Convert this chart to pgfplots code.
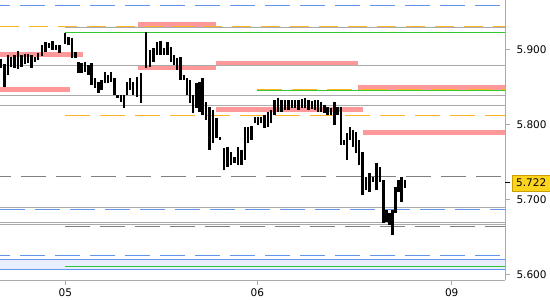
\documentclass[border=0pt]{standalone}
\usepackage{fontspec}
\setmainfont{DejaVu Sans}
\usepackage{pgfplots}
\usepackage{pgfplotstable}
\pgfplotsset{compat=1.18}
\definecolor{pinkb}{RGB}{255,153,153}
\definecolor{lgray}{RGB}{170,170,170}
\definecolor{dgray}{RGB}{128,128,128}
\definecolor{bluel}{RGB}{100,149,237}
\definecolor{orangel}{RGB}{255,180,40}
\definecolor{greenl}{RGB}{50,200,50}
\definecolor{bandfill}{RGB}{232,238,255}
\definecolor{gold}{RGB}{252,212,30}
\definecolor{golddark}{RGB}{200,160,0}

\pgfplotstableread{
x lo hi
1 5.8756 5.8876
4.5 5.8502 5.8809
8 5.8662 5.8929
11 5.8769 5.8903
14.5 5.8756 5.8929
18 5.8742 5.8983
21.5 5.8769 5.8929
25 5.8809 5.8943
28 5.8823 5.8943
31.5 5.8756 5.8929
35 5.8836 5.8903
38 5.8863 5.8956
42 5.8916 5.9063
45.5 5.8969 5.9103
49 5.9023 5.9090
52.5 5.8996 5.9116
56 5.8996 5.9063
59.5 5.8956 5.9063
65 5.9076 5.9223
68.5 5.9063 5.9170
72 5.8889 5.9156
75.5 5.8889 5.8969
78.5 5.8689 5.8836
81.5 5.8689 5.8823
85 5.8702 5.8836
88.5 5.8662 5.8796
91.5 5.8529 5.8823
95 5.8489 5.8622
98.5 5.8422 5.8569
101.5 5.8462 5.8595
105 5.8555 5.8702
108 5.8555 5.8662
111 5.8569 5.8702
114.5 5.8395 5.8622
117.5 5.8355 5.8395
121 5.8302 5.8395
124 5.8221 5.8395
127 5.8395 5.8569
130 5.8462 5.8622
133 5.8395 5.8569
137 5.8368 5.8636
141 5.8288 5.8689
146 5.8756 5.9237
150 5.8769 5.8996
153.5 5.8836 5.9023
157 5.8929 5.9103
160.5 5.8929 5.9116
164 5.8929 5.9023
167.5 5.8929 5.9103
171 5.8836 5.9036
174 5.8796 5.8929
177 5.8729 5.8889
180.5 5.8595 5.8903
184 5.8595 5.8662
187 5.8395 5.8622
190 5.8288 5.8595
193 5.8155 5.8395
196.5 5.8221 5.8555
199.5 5.8168 5.8569
202.5 5.8128 5.8622
206 5.8061 5.8302
209.5 5.7661 5.8235
213 5.7754 5.8195
216.5 5.7821 5.8088
220 5.7794 5.7837
224 5.7393 5.7687
227.5 5.7433 5.7701
231 5.7460 5.7634
234.5 5.7487 5.7567
238 5.7460 5.7701
241.5 5.7460 5.7661
245 5.7527 5.7968
248 5.7754 5.7968
251.5 5.7794 5.7981
255 5.8021 5.8101
258 5.7994 5.8101
261 5.8021 5.8101
264.5 5.7954 5.8128
268 5.7968 5.8168
271 5.8021 5.8195
274.5 5.8128 5.8328
278 5.8168 5.8355
281.5 5.8168 5.8328
285 5.8195 5.8328
288.5 5.8195 5.8328
292 5.8221 5.8328
295 5.8221 5.8328
298.5 5.8195 5.8328
302 5.8221 5.8341
305 5.8221 5.8355
308.5 5.8195 5.8328
312 5.8208 5.8315
315 5.8195 5.8328
318 5.8168 5.8328
321 5.8168 5.8302
324.5 5.8155 5.8262
327.5 5.8128 5.8235
331 5.8128 5.8221
334.5 5.7994 5.8302
337.5 5.8128 5.8235
341 5.7727 5.8235
344 5.7727 5.7794
347 5.7527 5.7888
350 5.7794 5.7968
353 5.7701 5.7928
356 5.7620 5.7901
359 5.7460 5.7794
362.5 5.7059 5.7634
366 5.7126 5.7300
369.5 5.7099 5.7353
373 5.7233 5.7300
376.5 5.7126 5.7487
380 5.7233 5.7433
383.5 5.6685 5.7260
386.5 5.6699 5.6859
389.5 5.6659 5.6819
392.5 5.6525 5.6859
395.5 5.6819 5.7166
398.5 5.7099 5.7260
401.5 5.6966 5.7300
405 5.7153 5.7260
}\bars

\begin{document}
\begin{tikzpicture}
\useasboundingbox (0,0) rectangle (550bp,300bp);
\begin{axis}[
  at={(0,20bp)}, anchor=south west,
  scale only axis, width=505bp, height=280bp,
  xmin=0, xmax=505, ymin=5.5924, ymax=5.9664,
  axis x line*=bottom, axis y line*=right,
  axis line style={draw=lgray, line width=1bp, -},
  xtick={65.3,257.3,451.7}, xticklabels={05,06,09},
  ytick={5.6,5.7,5.8,5.9},
  yticklabel style={/pgf/number format/fixed, /pgf/number format/fixed zerofill, /pgf/number format/precision=3, xshift=3bp},
  /pgf/number format/assume math mode=true,
  tick align=outside, major tick length=5bp,
  tick style={lgray, line width=1bp},
  ticklabel style={font=\fontsize{10.5bp}{12bp}\selectfont, black},
  extra y ticks={5.722},
  extra y tick style={tick style={black, line width=1bp},
     yticklabel style={xshift=-1bp, fill=gold, draw=golddark, inner xsep=4bp, inner ysep=4bp}},
  clip=true,
]
% blue band
\addplot[draw=none, fill=bandfill] coordinates {(0,5.61979) (505,5.61979) (505,5.60643) (0,5.60643)} -- cycle;
\addplot[bluel, line width=1bp] coordinates {(0,5.61979) (505,5.61979)};
\addplot[bluel, line width=1bp] coordinates {(0,5.60643) (505,5.60643)};
% pink bands
\addplot[pinkb, line width=5bp] coordinates {(138,5.9339) (216,5.9339)};
\addplot[pinkb, line width=5bp] coordinates {(0,5.8936) (83,5.8936)};
\addplot[pinkb, line width=5bp] coordinates {(0,5.8469) (70,5.8469)};
\addplot[pinkb, line width=5bp] coordinates {(138,5.8756) (216,5.8756)};
\addplot[pinkb, line width=5bp] coordinates {(216,5.8813) (358,5.8813)};
\addplot[pinkb, line width=5bp] coordinates {(358,5.8499) (505,5.8499)};
\addplot[pinkb, line width=5bp] coordinates {(216,5.8202) (363,5.8202)};
\addplot[pinkb, line width=5bp] coordinates {(363,5.7888) (505,5.7888)};
% gray solid lines
\addplot[lgray, line width=1bp] coordinates {(65,5.92967) (505,5.92967)};
\addplot[lgray, line width=1bp] coordinates {(0,5.87892) (505,5.87892)};
\addplot[lgray, line width=1bp] coordinates {(0,5.83885) (505,5.83885)};
\addplot[lgray, line width=1bp] coordinates {(0,5.82549) (505,5.82549)};
\addplot[lgray, line width=1bp] coordinates {(0,5.68924) (505,5.68924)};
\addplot[lgray, line width=1bp] coordinates {(0,5.66921) (505,5.66921)};
\addplot[lgray, line width=1bp] coordinates {(0,5.66654) (505,5.66654)};
% dashed lines
\addplot[bluel, line width=1bp, dash pattern=on 25bp off 10bp, dash phase=15bp] coordinates {(0,5.95905) (505,5.95905)};
\addplot[orangel, line width=1bp, dash pattern=on 19bp off 10bp] coordinates {(0,5.93100) (505,5.93100)};
\addplot[orangel, line width=1bp, dash pattern=on 25bp off 10bp] coordinates {(65,5.81213) (505,5.81213)};
\addplot[orangel, line width=1bp, dash pattern=on 25bp off 10bp] coordinates {(257,5.84686) (505,5.84686)};
\addplot[dgray, line width=1bp, dash pattern=on 25bp off 10bp, dash phase=14bp] coordinates {(0,5.73065) (505,5.73065)};
\addplot[bluel, line width=1bp, dash pattern=on 25bp off 10bp] coordinates {(0,5.68657) (505,5.68657)};
\addplot[dgray, line width=1bp, dash pattern=on 25bp off 10bp] coordinates {(65,5.66387) (505,5.66387)};
\addplot[bluel, line width=1bp, dash pattern=on 25bp off 10bp, dash phase=15bp] coordinates {(0,5.62513) (505,5.62513)};
% green lines
\addplot[greenl, line width=1bp] coordinates {(65,5.92299) (505,5.92299)};
\addplot[greenl, line width=1bp] coordinates {(257,5.84552) (505,5.84552)};
\addplot[greenl, line width=1bp] coordinates {(65,5.61044) (505,5.61044)};
% price bars
\addplot[draw=none, mark=none,
  error bars/.cd, y dir=plus, y explicit, error mark=none,
  error bar style={line width=2.2bp, black}]
  table[x=x, y=lo, y error expr=\thisrow{hi}-\thisrow{lo}] {\bars};
\end{axis}
\end{tikzpicture}
\end{document}
